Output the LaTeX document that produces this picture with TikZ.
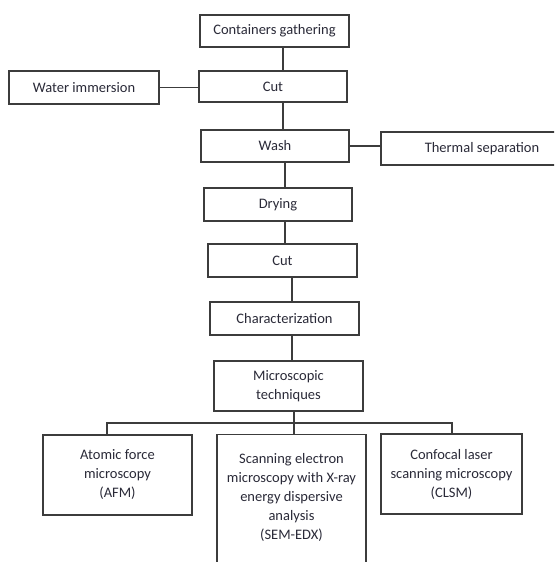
\documentclass[tikz,border=0pt]{standalone}
\usepackage{fontspec}
\setmainfont{Carlito}
\usetikzlibrary{positioning}
\definecolor{inkgray}{HTML}{3C3C3C}
\definecolor{txtgray}{HTML}{2A2A38}
\begin{document}
\begin{tikzpicture}[x=1pt, y=-1pt,
  box/.style={rectangle, draw=inkgray, line width=1.3pt, fill=white,
    minimum width=149pt, minimum height=32pt, inner sep=2pt, align=center,
    font=\fontsize{14.5}{19}\selectfont, text=txtgray},
  tallbox/.style={box, minimum height=80pt},
  lbl/.style={align=center, font=\fontsize{14.5}{19}\selectfont, text=txtgray},
  link/.style={draw=inkgray, line width=1.3pt},
]
\path[use as bounding box, clip] (0,0) rectangle (554,562);

% Main chain
\node[box] (gather) at (274.5, 31) {Containers gathering};
\node[box, minimum width=148pt, minimum height=31pt] (cutA) at (273, 86.5) {Cut};
\node[box, minimum width=148pt] (wash) at (275, 146) {Wash};
\node[box, minimum width=148pt, minimum height=33pt] (drying) at (278, 204.5) {Drying};
\node[box, minimum height=33pt] (cutB) at (282.5, 260.5) {Cut};
\node[box, minimum height=33pt] (charact) at (284.5, 318.5) {Characterization};
\node[box, minimum height=50pt] (micro) at (288.5, 386) {Microscopic\\techniques};

% Side steps
\node[box, minimum width=150pt, minimum height=33pt] (water) at (84, 87.5) {Water immersion};
\node[box, minimum width=202pt, minimum height=33pt] (thermal) at (482, 148.5) {Thermal separation};

% Techniques
\node[tallbox] (afm) at (117.5, 475) {Atomic force\\microscopy\\(AFM)};
\node[box, minimum height=150pt, anchor=north] (sem) at (291.5, 434) {};
\node[lbl] (semtxt) at (291.5, 497) {Scanning electron\\microscopy with X-ray\\energy dispersive\\analysis\\(SEM-EDX)};
\node[tallbox, minimum width=141pt] (clsm) at (451.5, 474) {Confocal laser\\scanning microscopy\\(CLSM)};

% Connectors
\coordinate (sA) at (283, 0);
\coordinate (sB) at (285, 0);
\coordinate (sC) at (292, 0);
\coordinate (bus) at (294, 423);
\coordinate (busL) at (107, 423);
\coordinate (busR) at (452, 423);

\draw[link] (gather.south -| sA) -- (cutA.north -| sA);
\draw[link] (cutA.south -| sA) -- (wash.north -| sA);
\draw[link] (wash.south -| sB) -- (drying.north -| sB);
\draw[link] (drying.south -| sB) -- (cutB.north -| sB);
\draw[link] (cutB.south -| sC) -- (charact.north -| sC);
\draw[link] (charact.south -| sC) -- (micro.north -| sC);
\draw[link] (water.east) -- (water.east -| cutA.west);
\draw[link] (wash.east) -- (wash.east -| thermal.west);
\draw[link] (micro.south -| bus) -- (sem.north -| bus);
\draw[link] (afm.north -| busL) -- (busL) -- (busR) -- (clsm.north -| busR);

\end{tikzpicture}
\end{document}
